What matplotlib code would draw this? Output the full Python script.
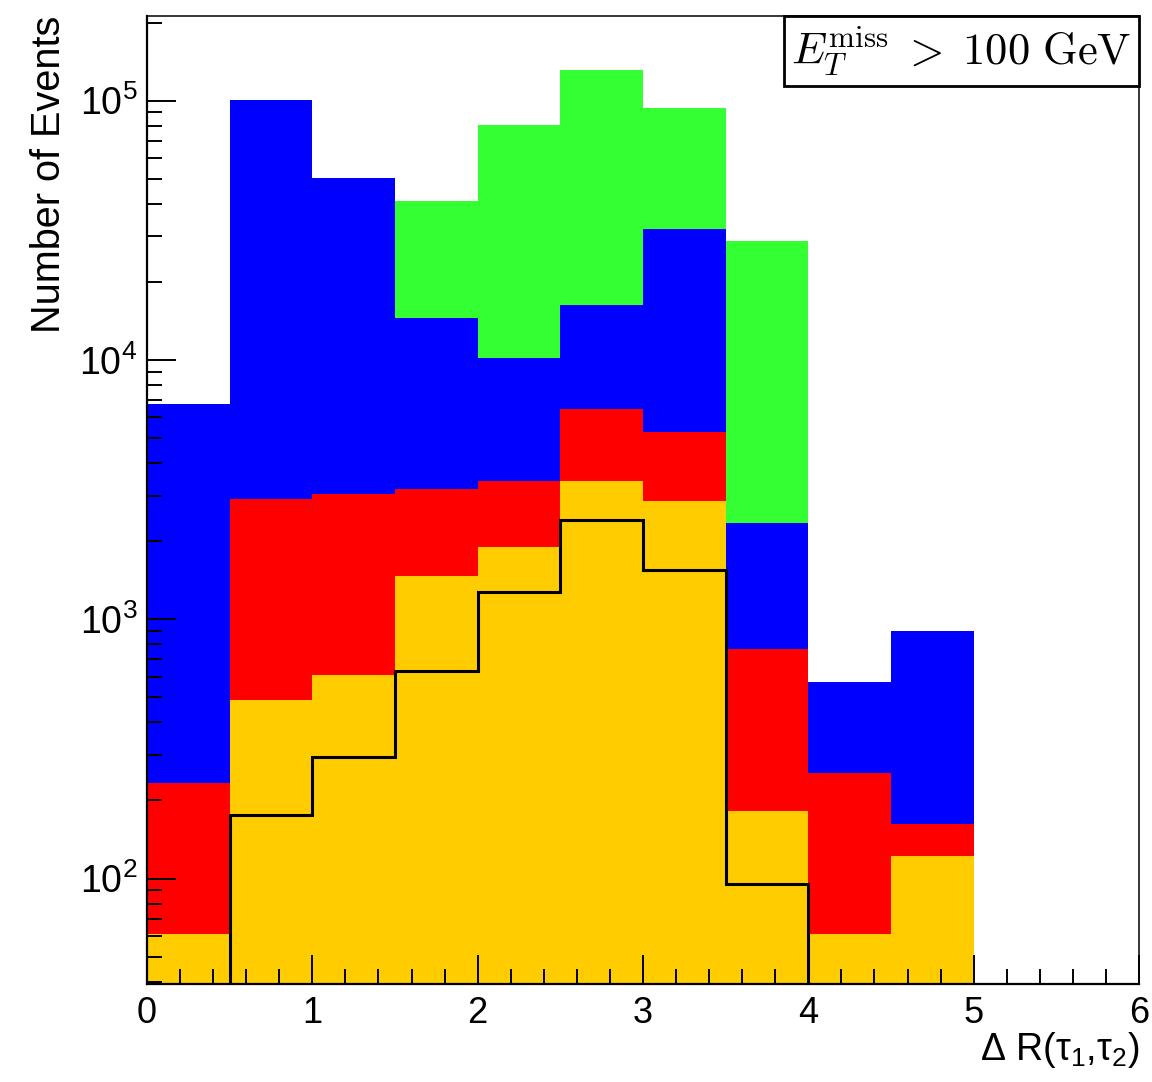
import numpy as np
import matplotlib
matplotlib.use("Agg")
import matplotlib.pyplot as plt
from matplotlib.patches import Rectangle
from matplotlib.ticker import LogLocator, MultipleLocator, NullFormatter

plt.rcParams["font.family"] = ["Liberation Sans", "DejaVu Sans"]
plt.rcParams["mathtext.fontset"] = "custom"
plt.rcParams["mathtext.rm"] = "Liberation Sans"
plt.rcParams["mathtext.it"] = "Liberation Sans:italic"
plt.rcParams["mathtext.bf"] = "Liberation Sans:bold"

# Bins de Delta R(tau1, tau2)
bin_edges = [0.0, 0.5, 1.0, 1.5, 2.0, 2.5, 3.0, 3.5, 4.0, 4.5, 5.0, 5.5, 6.0]

# Contribuições de cada processo (empilhadas de baixo para cima)
yellow_counts = [61, 488, 610, 1465, 1896, 3424, 2867, 182, 61, 122, 0, 0]
red_counts = [172, 2423, 2424, 1707, 1528, 3031, 2399, 586, 194, 40, 0, 0]
blue_counts = [6530, 98000, 47190, 11310, 6760, 9795, 26730, 1577, 316, 742, 0, 0]
green_counts = [0, 0, 0, 26450, 70360, 114700, 61740, 26425, 0, 0, 0, 0]

# Histograma em linha preta (não empilhado)
line_counts = [0, 176, 293, 632, 1271, 2411, 1549, 95.5, 0, 0, 0, 0]

colors = ["#ffcc00", "#ff0000", "#0000ff", "#33ff33"]

y_min, y_max = 39.2, 2.12e5
floor = 1.0  # abaixo do eixo, evita log(0)


def plot_stack():
    fig = plt.figure(figsize=(11.52, 10.82), dpi=100)
    ax = fig.add_axes([0.1276, 0.0906, 0.8611, 0.8946])

    stack = np.cumsum([yellow_counts, red_counts, blue_counts, green_counts], axis=0)

    # Do topo para a base, como o THStack
    for values, color in zip(stack[::-1], colors[::-1]):
        ax.stairs(np.clip(values, floor, None), bin_edges, fill=True,
                  baseline=floor, color=color, linewidth=0)

    ax.stairs(np.clip(line_counts, floor, None), bin_edges, baseline=None,
              color="black", linewidth=2.2)

    ax.set_yscale("log")
    ax.set_xlim(0, 6)
    ax.set_ylim(y_min, y_max)

    ax.xaxis.set_major_locator(MultipleLocator(1))
    ax.xaxis.set_minor_locator(MultipleLocator(0.2))
    ax.yaxis.set_major_locator(LogLocator(base=10, numticks=10))
    ax.yaxis.set_minor_locator(LogLocator(base=10, subs=np.arange(2, 10), numticks=50))
    ax.yaxis.set_minor_formatter(NullFormatter())

    ax.tick_params(which="both", direction="in", top=False, right=False, width=1.4)
    ax.tick_params(which="major", length=21)
    ax.tick_params(which="minor", length=10.5)
    ax.tick_params(axis="x", which="major", labelsize=26, pad=9)
    ax.tick_params(axis="y", which="major", labelsize=27, pad=7)

    for side in ["left", "bottom"]:
        ax.spines[side].set_linewidth(1.6)
    for side in ["top", "right"]:
        ax.spines[side].set_linewidth(1.1)

    ax.set_ylabel("Number of Events", loc="top", fontsize=28.5, labelpad=8)
    ax.set_xlabel("Δ R(τ$_{1}$,τ$_{2}$)", loc="right", fontsize=27, labelpad=-1)

    # Caixa com o corte
    box = Rectangle((0.642, 0.9277), 0.358, 0.0723, transform=ax.transAxes,
                    facecolor="white", edgecolor="black", linewidth=2,
                    zorder=5, clip_on=False)
    ax.add_patch(box)
    ax.text(0.821, 0.963, r"$E_T^{\mathrm{miss}} \;>\; 100\ \mathrm{GeV}$",
            transform=ax.transAxes, ha="center", va="center", fontsize=32,
            math_fontfamily="cm", zorder=6)

    fig.savefig("out.png", dpi=100)


if __name__ == "__main__":
    plot_stack()
